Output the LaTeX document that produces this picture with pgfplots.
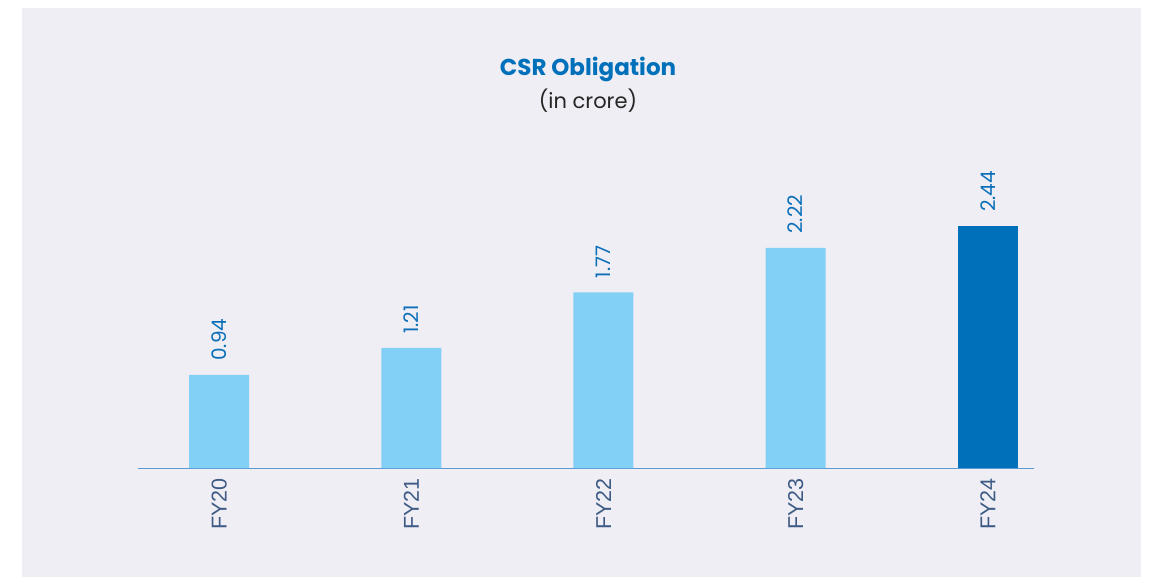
\documentclass[border=0pt]{standalone}
\usepackage{pgfplots}
\pgfplotsset{compat=1.18}
\usepackage{fontspec}
\setmainfont{Poppins}
\newfontfamily\arialish{Liberation Sans}

\definecolor{panel}{HTML}{EFEEF4}
\definecolor{lightbar}{HTML}{82D0F5}
\definecolor{darkbar}{HTML}{0070BA}
\definecolor{valblue}{HTML}{0A6FB8}
\definecolor{ticklab}{HTML}{3D5A85}
\definecolor{axisline}{HTML}{5A9BD0}

\begin{document}
\begin{tikzpicture}[x=1pt,y=1pt]
  % page and panel
  \fill[white] (0,0) rectangle (1161,-577);
  \fill[panel] (22,-8) rectangle (1141,-577);
  % titles
  \node[font=\bfseries\fontsize{23}{26}\selectfont, text=darkbar] at (588,-69) {CSR Obligation};
  \node[font=\fontsize{21}{24}\selectfont, text=black!85] at (588,-101) {(in crore)};

  \begin{axis}[
    at={(138pt,-468pt)}, anchor=south west,
    scale only axis,
    width=896pt, height=317.4pt,
    xmin=-0.422, xmax=4.24,
    ymin=0, ymax=3.2,
    axis x line*=bottom,
    axis y line=none,
    x axis line style={draw=axisline, line width=1pt, -},
    xtick={0,1,2,3,4},
    xticklabels={FY20,FY21,FY22,FY23,FY24},
    major tick length=0pt,
    xticklabel style={rotate=90, anchor=east, text=ticklab,
      font=\arialish\fontsize{21.5}{24}\selectfont, inner sep=0pt},
    xticklabel shift=10pt,
    ybar, bar width=60pt, bar shift=0pt,
    point meta=explicit symbolic,
    nodes near coords,
    nodes near coords style={rotate=90, anchor=west, text=valblue,
      font=\fontsize{20}{22}\selectfont, inner sep=0pt, xshift=14pt},
    clip=false,
  ]
    \addplot[fill=lightbar, draw=none] coordinates {
      (0,0.94) [0.94]
      (1,1.21) [1.21]
      (2,1.77) [1.77]
      (3,2.22) [2.22]
    };
    \addplot[fill=darkbar, draw=none] coordinates {
      (4,2.44) [2.44]
    };
  \end{axis}
\end{tikzpicture}
\end{document}
